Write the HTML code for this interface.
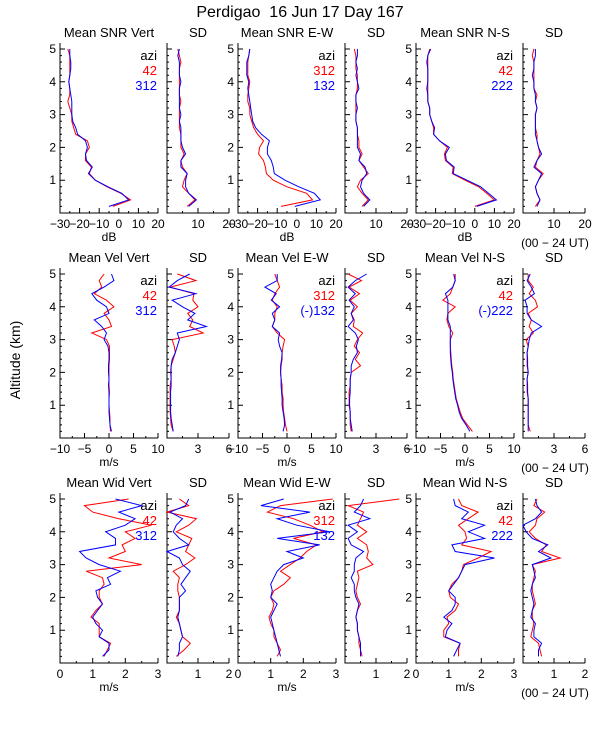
<!DOCTYPE html>
<html><head><meta charset="utf-8"><style>
html,body{margin:0;padding:0;background:#fff;}
svg{display:block;font-family:"Liberation Sans",sans-serif;}
svg text{white-space:pre;}
</style></head><body>
<svg id="chart" width="600" height="750" viewBox="0 0 600 750">
<rect x="0" y="0" width="600" height="750" fill="#fff"/>
<text x="300" y="17" font-size="16" text-anchor="middle" xml:space="preserve">Perdigao  16 Jun 17 Day 167</text>
<text x="0" y="0" font-size="14" text-anchor="middle" transform="translate(20,360) rotate(-90)">Altitude (km)</text>
</svg>
<script>
const altitudes=[0.2,0.4,0.6,0.8,1.0,1.2,1.4,1.6,1.8,2.0,2.2,2.4,2.6,2.8,3.0,3.2,3.4,3.6,3.8,4.0,4.2,4.4,4.6,4.8,5.0];
const yTicks=[1,2,3,4,5];
// Row 1: SNR
const snrVertRed=[-3,6,1,-6,-12,-15,-14,-17,-17,-15,-16,-22,-23,-24,-24,-25,-26,-25,-25,-25.5,-25,-25,-25,-25,-26];
const snrVertBlue=[-5,5,1.5,-5.5,-12,-15.5,-13.5,-16.5,-17,-16,-17,-21,-22,-23.5,-24,-24,-24,-24.5,-25,-25.5,-25,-24.5,-24.5,-25,-25];
const snrVertSdRed=[6.5,9,7,5,5.5,6.5,5,4.5,5.5,4.5,4.5,4.5,4,4,4,4,4.5,4,4,4,4,4,4.5,4,3.5];
const snrVertSdBlue=[7,9.5,7,6,6,6.5,4.5,4.5,6,5,4.5,4.5,4.5,4,4.5,4,4,4,4,4.5,4,4,4,3.5,4];
const snrEwRed=[-8,8,5,-5,-12,-15.5,-16,-17,-19.5,-19,-17,-20,-22,-23,-24,-24,-25,-25,-24.5,-24,-25,-25,-25,-24.5,-24];
const snrEwBlue=[-1,12,9,1,-6,-11.5,-12,-13,-15,-15,-14,-18,-21,-22.5,-23,-23.5,-24,-24.5,-25,-24.5,-25.5,-25.5,-25.5,-24.5,-24];
const snrEwSdRed=[5.5,7.5,5.5,4,5,7.5,6,4.5,5.5,4.5,4.5,4,4,3.5,3.5,3.5,3.5,3.5,4,4,4,3.5,3.5,3.5,3];
const snrEwSdBlue=[6,8,6,5,5.5,7,6.5,4.5,5,4,4,4,4,3.5,3.5,4,3.5,3.5,4.5,4,3.5,4,3.5,4,4];
const snrNsRed=[0,10,6,2,-5,-11.5,-11,-15,-15.5,-14,-18,-21,-21,-22,-23,-23,-24,-24,-24,-24,-24,-24,-24,-24,-23];
const snrNsBlue=[1,11,7,3,-4,-11,-10.5,-14.5,-15,-13,-18,-21,-20.5,-22,-23,-23,-24,-24,-24.5,-24,-24,-24,-24.5,-24,-22.5];
const snrNsSdRed=[4,5.5,4.5,4,5,6.5,4,4.5,5.5,5,4.5,4.5,4,4,4,4.5,4,4.5,3.5,3.5,3.5,3.5,3.5,3,3.5];
const snrNsSdBlue=[4.5,5.5,4.5,4,5,6,3.5,4.5,6,5,4.5,4,4,4,4,4.5,4,4,3.5,3.5,3,3.5,3.5,4,4];
// Row 2: Velocity
const velVertRed=[0.3,0.2,0.2,0.1,0,0,0.1,0,0,0,0,0.1,0.1,0.1,-0.5,-3.5,0.5,0,-1,1,-0.5,-3,-1.5,-2,-1];
const velVertBlue=[0.5,0.2,0.1,0,0,0,0,-0.1,0,-0.1,-0.1,0,0,-0.2,-1,-0.5,-1.5,-3,0,-0.5,-2.5,-3.5,-1,1,0.5];
const velVertSdRed=[0.6,0.4,0.35,0.3,0.3,0.3,0.3,0.3,0.4,0.35,0.4,0.6,0.8,0.7,0.5,3.5,2.2,2.5,2,3,2.5,2.6,0.3,2.8,1];
const velVertSdBlue=[0.6,0.5,0.4,0.35,0.35,0.35,0.35,0.4,0.4,0.4,0.4,0.5,0.8,1,1.2,1,3.8,2,2.7,1.5,0.5,2.8,0.2,1,2.2];
const velEwRed=[0,-0.3,-0.5,-0.7,-0.8,-0.8,-1,-1,-1.2,-1.3,-1.2,-1,-1,-0.8,-0.5,-2,-3,-2.5,-2.5,-2,-3,-2.5,-1.5,-2,-2.5];
const velEwBlue=[-0.8,-0.5,-0.6,-0.8,-1,-1,-1.1,-1.2,-1.2,-1.3,-1.3,-1.1,-1,-1.5,-1.8,-1.5,-3,-2.5,-3,-1.5,-3.2,-2.2,-4.5,-2,-2];
const velEwSdRed=[0.6,0.5,0.5,0.5,0.4,0.4,0.4,0.5,0.5,0.6,1.5,1.0,1.4,0.9,1.2,1.7,0.8,0.9,0.6,1.2,0.5,1.4,0.4,1.6,0.3];
const velEwSdBlue=[0.7,0.6,0.5,0.5,0.45,0.45,0.5,0.5,0.5,0.6,0.6,0.8,1.2,1.1,1.3,1.0,0.3,0.8,0.6,0.9,0.4,1.0,0.3,1.0,2.1];
const velNsRed=[1.5,0.5,-0.5,-1,-1.4,-1.8,-2,-2.2,-2.4,-2.5,-2.7,-2.8,-2.9,-3,-3,-2.5,-3.3,-3.7,-3.5,-2,-4.5,-3,-2.5,-2,-2];
const velNsBlue=[1,0.2,-0.7,-1.2,-1.5,-1.9,-2.1,-2.3,-2.5,-2.6,-2.8,-2.9,-3,-3,-3,-3,-3,-3.5,-3.5,-3.5,-3.5,-4,-2.5,-2,-2.3];
const velNsSdRed=[0.7,0.5,0.5,0.5,0.5,0.5,0.4,0.4,0.4,0.5,0.4,0.4,0.4,0.5,0.3,1.0,0.6,0.8,0.5,1.4,1.2,0.6,1.0,0.5,0.5];
const velNsSdBlue=[0.5,0.5,0.5,0.5,0.5,0.5,0.45,0.45,0.4,0.5,0.45,0.45,0.4,0.5,0.6,0.8,1.8,0.8,0.4,0.4,0.2,1.1,0.8,0.4,0.7];
// Row 3: Width
const widVertRed=[1.35,1.45,1.55,1.2,1.2,1.2,0.95,1.1,1.3,1.2,1.2,1.35,1.3,0.8,2.5,1.5,2.0,1.9,2.3,2.0,2.8,1.8,1.0,0.75,2.1];
const widVertBlue=[1.3,1.5,1.5,1.2,1.3,1.1,1.0,1.15,1.3,1.15,1.1,1.55,1.45,1.85,1.2,0.8,0.6,1.7,1.7,1.4,2.0,2.3,1.8,2.5,1.7];
const widVertSdRed=[0.3,0.55,0.75,0.5,0.45,0.4,0.3,0.4,0.4,0.4,0.35,0.35,0.4,0.2,0.6,0.9,0.6,0.7,0.8,0.3,0.7,0.95,0.0,0.7,0.4];
const widVertSdBlue=[0.35,0.4,0.4,0.5,0.45,0.4,0.35,0.4,0.4,0.4,0.6,0.45,0.6,0.75,0.5,0.4,0.0,0.7,0.4,0.2,0.3,0.5,0.1,0.6,0.7];
const widEwRed=[1.2,1.3,1.2,1.1,1.1,1.0,0.95,1.05,1.1,1.0,1.1,1.4,1.6,1.3,1.6,1.9,2.1,2.4,1.7,2.6,2.2,1.7,0.9,1.3,2.9];
const widEwBlue=[1.3,1.25,1.2,1.15,1.1,1.05,1.0,1.1,1.2,1.0,1.05,1.0,1.1,1.2,1.4,2.0,1.5,2.5,1.2,2.8,1.8,1.2,2.2,0.7,1.4];
const widEwSdRed=[0.55,0.5,0.45,0.45,0.4,0.4,0.35,0.4,0.5,0.4,0.35,0.4,0.45,0.4,0.9,0.7,0.75,0.7,0.4,0.7,0.4,0.5,0.6,0.1,1.75];
const widEwSdBlue=[0.5,0.5,0.5,0.45,0.4,0.4,0.35,0.4,0.45,0.35,0.3,0.3,0.2,0.3,0.3,0.35,0.6,0.2,0.1,0.4,0.1,0.8,0.3,0.5,0.6];
const widNsRed=[1.3,1.3,1.35,0.85,0.85,1.0,0.95,1.2,1.3,1.05,1.0,1.1,1.3,1.4,1.45,1.9,2.3,1.4,1.55,1.5,1.3,1.6,1.9,1.4,1.3];
const widNsBlue=[1.15,1.25,1.35,0.9,0.95,1.1,0.85,1.1,1.2,1.2,1.0,1.15,1.3,1.4,1.5,2.4,1.2,1.1,2.1,1.6,2.1,1.4,1.6,1.2,1.15];
const widNsSdRed=[0.6,0.55,0.5,0.25,0.3,0.35,0.3,0.3,0.4,0.35,0.3,0.3,0.35,0.4,0.3,1.2,0.6,0.75,0.4,0.2,0.4,0.45,0.7,0.35,0.45];
const widNsSdBlue=[0.5,0.5,0.6,0.35,0.35,0.4,0.25,0.3,0.35,0.3,0.25,0.3,0.4,0.35,0.3,0.9,0.5,0.8,0.3,0.1,0.0,0.4,0.6,0.45,0.4];
// Tick labels
const snrMeanTicks=[-30,-20,-10,0,10,20];
const snrSdTicks=[10,20];
const velMeanTicks=[-10,-5,0,5,10];
const velSdTicks=[3,6];
const widMeanTicks=[0,1,2,3];
const widSdTicks=[1,2];
const legendAzi=[["42","312"],["312","132"],["42","222"]];
const legendAziVel=[["42","312"],["312","(-)132"],["42","(-)222"]];

const NS='http://www.w3.org/2000/svg';
const svg=document.getElementById('chart');
function mk(tag,attrs,parent){const e=document.createElementNS(NS,tag);for(const k in attrs)e.setAttribute(k,attrs[k]);(parent||svg).appendChild(e);return e;}

const colX=[[60,158],[167,229],[238,336],[345,407],[416,514],[523,585]];
const rowBottom=[213,438,663];
const kmPx=32.8, plotH=170;

const rows=[
 {key:'snr',unit:'dB',titles:['Mean SNR Vert','SD','Mean SNR E-W','SD','Mean SNR N-S','SD'],
  mean:[-30,20],sd:[0,20],meanTicks:snrMeanTicks,sdTicks:snrSdTicks,leg:legendAzi,
  series:[[snrVertRed,snrVertBlue],[snrVertSdRed,snrVertSdBlue],[snrEwRed,snrEwBlue],[snrEwSdRed,snrEwSdBlue],[snrNsRed,snrNsBlue],[snrNsSdRed,snrNsSdBlue]]},
 {key:'vel',unit:'m/s',titles:['Mean Vel Vert','SD','Mean Vel E-W','SD','Mean Vel N-S','SD'],
  mean:[-10,10],sd:[0,6],meanTicks:velMeanTicks,sdTicks:velSdTicks,leg:legendAziVel,
  series:[[velVertRed,velVertBlue],[velVertSdRed,velVertSdBlue],[velEwRed,velEwBlue],[velEwSdRed,velEwSdBlue],[velNsRed,velNsBlue],[velNsSdRed,velNsSdBlue]]},
 {key:'wid',unit:'m/s',titles:['Mean Wid Vert','SD','Mean Wid E-W','SD','Mean Wid N-S','SD'],
  mean:[0,3],sd:[0,2],meanTicks:widMeanTicks,sdTicks:widSdTicks,leg:legendAzi,
  series:[[widVertRed,widVertBlue],[widVertSdRed,widVertSdBlue],[widEwRed,widEwBlue],[widEwSdRed,widEwSdBlue],[widNsRed,widNsBlue],[widNsSdRed,widNsSdBlue]]}
];
const dirs=['vert','vert','ew','ew','ns','ns'];

rows.forEach((row,ri)=>{
  const yb=rowBottom[ri], yt=yb-plotH;
  const yScale=a=>yb-a*kmPx;
  for(let c=0;c<6;c++){
    const isSd=c%2===1;
    const [x0,x1]=colX[c];
    const dom=isSd?row.sd:row.mean;
    const xScale=v=>x0+(v-dom[0])/(dom[1]-dom[0])*(x1-x0);
    const g=mk('g',{});
    
    
    const t=mk('text',{x:(x0+x1)/2,y:yt-6,'font-size':13,'text-anchor':'middle'},g);
    t.textContent=row.titles[c];
    
    
    const ax=mk('path',{d:`M${x0},${yt}V${yb}H${x1}`,stroke:'#000','stroke-width':1,fill:'none'},g);
    
    
    let d='';
    for(let k=1;k<=25;k++){const a=k*0.2;if(a>5.15)break;const y=yScale(a);const major=Math.abs(a-Math.round(a))<1e-6;d+=`M${x0},${y.toFixed(1)}h${major?5:2}`;}
    const ticks=isSd?[dom[0]].concat(row.sdTicks):row.meanTicks;
    const step=ticks[ticks.length-1]-ticks[ticks.length-2];
    for(let v=dom[0];v<=dom[1]+1e-6;v+=step/2){const x=xScale(v);const major=ticks.some(tv=>Math.abs(tv-v)<1e-6);d+=`M${x.toFixed(1)},${yb}v${major?-5:-2}`;}
    const tk=mk('path',{d:d,stroke:'#000','stroke-width':1},g);
    
    
    const labs=isSd?row.sdTicks:row.meanTicks;
    labs.forEach(v=>{
      const l=mk('text',{x:xScale(v),y:yb+15,'font-size':12,'text-anchor':'middle'},g);
      l.textContent=String(v).replace('-','\u2212');
      
      
    });
    if(!isSd){
      const u=mk('text',{x:(x0+x1)/2,y:yb+28,'font-size':12,'text-anchor':'middle'},g);
      u.textContent=row.unit;
      
      
      yTicks.forEach(a=>{
        const l=mk('text',{x:x0-4,y:yScale(a)+4,'font-size':12,'text-anchor':'end'},g);
        l.textContent=a;
        
        
      });
      const li=c/2;
      const lg=[['azi','#000'],[row.leg[li][0],'#f00'],[row.leg[li][1],'#00f']];
      lg.forEach((e,i)=>{
        const l=mk('text',{x:x1-1,y:yt+17+i*15,'font-size':13,'text-anchor':'end',fill:e[1]},g);
        l.textContent=e[0];
        
        
      });
    }
    if(c===5){
      const u=mk('text',{x:555,y:yb+34,'font-size':12,'text-anchor':'middle'},g);
      u.textContent='(00 \u2212 24 UT)';
      
      
    }
    const colors=['#ff0000','#0000ff'];
    row.series[c].forEach((vals,si)=>{
      const pts=vals.map((v,i)=>xScale(v).toFixed(1)+','+yScale(altitudes[i]).toFixed(1)).join(' ');
      const pl=mk('polyline',{points:pts,fill:'none',stroke:colors[si],'stroke-width':1},g);
      
      
    });
  }
});
</script>
</body></html>
